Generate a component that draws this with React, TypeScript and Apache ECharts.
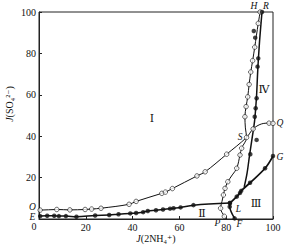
import React, { useEffect, useRef } from "react";
import * as echarts from "echarts";

const xTicks = [0, 20, 40, 60, 80, 100];
const yTicks = [0, 20, 40, 60, 80, 100];

// Curve O-S-Q (open circles)
const curveOSQ = [[0, 4.4], [0.5, 4.3], [7.6, 4.6], [13.2, 4.4], [19.7, 4.6], [22.5, 4.8], [26.5, 5.2], [38.5, 7.1], [41.5, 8.5], [52.5, 12.4], [54, 13], [57, 14.7], [67.5, 20.8], [71, 22.8], [80.2, 31.3], [88.7, 39.4], [91.5, 43.5], [95, 45.9], [98.3, 46.3], [100, 46.2]];
const markOSQ = [[0.5, 4.3], [7.6, 4.6], [13.2, 4.4], [19.7, 4.6], [22.5, 4.8], [26.5, 5.2], [38.5, 7.1], [41.5, 8.5], [52.5, 12.4], [54, 13], [57, 14.7], [67.5, 20.8], [71, 22.8], [80.2, 31.3], [88.7, 39.4], [91.5, 43.5], [98.3, 46.3], [100, 46.2]];

// Curve P-S-H (open circles)
const curvePSH = [[80, 0], [79.2, 1.3], [77.6, 5.2], [78.2, 8.5], [78.8, 11.6], [79.5, 14.8], [80.7, 18], [82.6, 21.3], [84.5, 24.5], [85.9, 30.9], [86.6, 34.2], [88.7, 39.4], [88.2, 44], [88, 49.4], [88.5, 54.3], [89.2, 59], [89.8, 65], [90.5, 71], [91.3, 76.5], [92.2, 83], [92.9, 88.5], [93.7, 94.5], [94.5, 100]];
const markPSH = [[79.2, 1.3], [77.6, 5.2], [78.8, 11.6], [79.5, 14.8], [80.7, 18], [84.5, 24.5], [85.9, 30.9], [86.6, 34.2], [88, 49.4], [88.5, 54.3], [89.2, 59], [89.8, 65], [90.5, 71], [91.3, 76.5], [92.2, 83], [93.7, 94.5], [94.5, 100]];

// Curve E-L (filled)
const curveEL = [[0.5, 1.4], [3.5, 1.6], [6.5, 1.6], [8.5, 1.4], [11.5, 1.4], [16, 1.1], [24, 1.7], [30, 1.9], [34, 2.3], [39, 2.7], [41.5, 2.9], [44.5, 3.3], [46.5, 3.9], [50, 4.2], [53, 4.6], [56, 5], [57.5, 5.2], [60.5, 5.6], [66, 6.7], [81.6, 7.7]];
// Curve L-F (filled)
const curveLF = [[81.6, 7.7], [81.5, 5.9], [82.3, 3], [83.6, 0.3]];
const markLF = [[81.5, 5.9], [83.6, 0.3]];
// Curve L-G (filled)
const curveLG = [[81.6, 7.7], [84.5, 10.8], [85.9, 12.6], [86.4, 13.6], [90.2, 17.5], [96.6, 24.5], [100, 30.4]];
// Curve to R (filled)
const curveR = [[87.7, 15.5], [88.9, 22], [90, 31], [91.2, 40], [92.1, 47], [92.6, 53.5], [93, 60], [93.4, 70], [93.8, 78], [94.4, 88], [95.3, 100]];
const markR = [[90.3, 31.3], [92.2, 49.4], [92.6, 53.5], [93, 58.3], [93.4, 73.6], [93.7, 77.6], [95.3, 100]];
const markExtraFilled = [[93, 38.2], [91.8, 90.8], [92.4, 87.6]];

const pointLabels = [
  { t: "O", x: 32.5, y: 207 },
  { t: "E", x: 32.5, y: 217 },
  { t: "H", x: 254, y: 6 },
  { t: "R", x: 266, y: 6 },
  { t: "S", x: 240, y: 137 },
  { t: "Q", x: 280, y: 123 },
  { t: "G", x: 280, y: 157 },
  { t: "L", x: 238.5, y: 209 },
  { t: "P", x: 217.5, y: 223 },
  { t: "F", x: 239.5, y: 224 },
];
const regionLabels = [
  { t: "Ⅰ", x: 152, y: 118 },
  { t: "Ⅳ", x: 264, y: 89 },
  { t: "Ⅱ", x: 202, y: 213 },
  { t: "Ⅲ", x: 256, y: 203 },
];

const FONT = "'Liberation Serif', 'DejaVu Serif', serif";

export default function App() {
  const ref = useRef<HTMLDivElement>(null);
  useEffect(() => {
    if (!ref.current) return;
    const chart = echarts.init(ref.current, undefined, { renderer: "svg" });
    const lineSeries = (data: number[][], width: number) => ({
      type: "line",
      data,
      smooth: 0.35,
      showSymbol: false,
      symbol: "none",
      lineStyle: { color: "#111", width },
      z: 2,
      silent: true,
    });
    const open = { color: "#fff", borderColor: "#111", borderWidth: 0.8 };
    const filled = { color: "#111" };
    chart.setOption({
      animation: false,
      grid: { left: 39, right: 20, top: 12, bottom: 27, show: true, borderColor: "#222", borderWidth: 1 },
      xAxis: {
        type: "value",
        min: xTicks[0],
        max: xTicks[xTicks.length - 1],
        interval: 20,
        axisLine: { show: true, lineStyle: { color: "#222" } },
        axisTick: { show: true, inside: true, length: 3, lineStyle: { color: "#222" } },
        splitLine: { show: false },
        axisLabel: { showMinLabel: false, color: "#111", fontFamily: FONT, fontSize: 10, margin: 3 },
      },
      yAxis: {
        type: "value",
        min: yTicks[0],
        max: yTicks[yTicks.length - 1],
        interval: 20,
        axisLine: { show: true, lineStyle: { color: "#222" } },
        axisTick: { show: true, inside: true, length: 3, lineStyle: { color: "#222" } },
        splitLine: { show: false },
        axisLabel: { showMinLabel: false, color: "#111", fontFamily: FONT, fontSize: 10, margin: 3 },
      },
      series: [
        lineSeries(curveOSQ, 1),
        lineSeries(curvePSH, 1),
        lineSeries(curveEL, 1.5),
        lineSeries(curveLF, 1.6),
        lineSeries(curveLG, 1.8),
        lineSeries(curveR, 1.5),
        { type: "scatter", data: markOSQ, symbol: "circle", symbolSize: 4.5, itemStyle: open, z: 3 },
        { type: "scatter", data: markPSH, symbol: "circle", symbolSize: 4.5, itemStyle: open, z: 3 },
        { type: "scatter", data: curveEL, symbol: "circle", symbolSize: 4.5, itemStyle: filled, z: 3 },
        { type: "scatter", data: markLF, symbol: "circle", symbolSize: 4.5, itemStyle: filled, z: 3 },
        { type: "scatter", data: curveLG, symbol: "circle", symbolSize: 4.5, itemStyle: filled, z: 3 },
        { type: "scatter", data: markR, symbol: "circle", symbolSize: 4.5, itemStyle: filled, z: 3 },
        { type: "scatter", data: markExtraFilled, symbol: "circle", symbolSize: 4.5, itemStyle: filled, z: 3 },
      ],
      graphic: [
        ...pointLabels.map((p) => ({
          type: "text",
          x: p.x,
          y: p.y,
          style: { text: p.t, fontFamily: FONT, fontStyle: "italic", fontSize: 9.5, fill: "#111", align: "center", verticalAlign: "middle" },
        })),
        ...regionLabels.map((p) => ({
          type: "text",
          x: p.x,
          y: p.y,
          style: { text: p.t, fontFamily: FONT, fontSize: 11, fill: "#111", align: "center", verticalAlign: "middle" },
        })),
        {
          type: "text",
          x: 34,
          y: 226,
          style: { text: String(xTicks[0]), fontFamily: FONT, fontSize: 10, fill: "#111", align: "center", verticalAlign: "middle" },
        },
        {
          type: "text",
          x: 156,
          y: 238,
          style: {
            text: "{i|J}(2NH₄⁺)",
            fontFamily: FONT,
            fontSize: 10,
            fill: "#111",
            align: "center",
            verticalAlign: "middle",
            rich: { i: { fontStyle: "italic", fontFamily: FONT, fontSize: 10 } },
          },
        },
        {
          type: "text",
          x: 9,
          y: 104,
          rotation: Math.PI / 2,
          style: {
            text: "{i|J}(SO₄²⁻)",
            fontFamily: FONT,
            fontSize: 10,
            fill: "#111",
            align: "center",
            verticalAlign: "middle",
            rich: { i: { fontStyle: "italic", fontFamily: FONT, fontSize: 10 } },
          },
        },
      ],
    });
    return () => chart.dispose();
  }, []);
  return <div ref={ref} style={{ position: "fixed", left: 0, top: 0, width: 293, height: 246, background: "#fff" }} />;
}
